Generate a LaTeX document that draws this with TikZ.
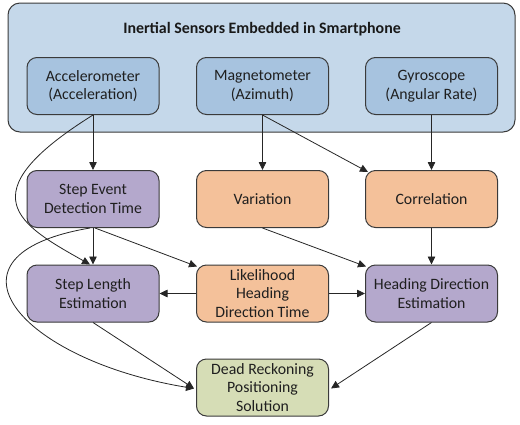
\documentclass[tikz,border=0pt]{standalone}
\usepackage{fontspec}
\setmainfont{Carlito}
\usetikzlibrary{arrows.meta}

\definecolor{panelfill}{HTML}{C5D8EA}
\definecolor{sensorfill}{HTML}{A7C3DF}
\definecolor{purplefill}{HTML}{B4A8CC}
\definecolor{orangefill}{HTML}{F4C19A}
\definecolor{greenfill}{HTML}{D6DDB6}
\definecolor{edgegray}{HTML}{3A3A3A}

\tikzset{
  box/.style={draw=edgegray, line width=1pt, rounded corners=10pt,
    minimum width=132pt, minimum height=57pt, inner sep=0pt, align=center,
    font=\fontsize{15.8}{18.5}\selectfont, text=black!88},
  sensor/.style={box, fill=sensorfill},
  proc/.style={box, fill=purplefill},
  calc/.style={box, fill=orangefill},
  result/.style={box, fill=greenfill},
  arr/.style={draw=black!85, line width=0.8pt,
    -{Triangle[length=8pt,width=7.5pt]}},
}

\begin{document}
\begin{tikzpicture}[x=1pt,y=-1pt]
  \useasboundingbox (0,0) rectangle (520,424);

  % sensor panel
  \node[draw=edgegray, line width=1pt, rounded corners=12pt, fill=panelfill,
        minimum width=507pt, minimum height=129pt, inner sep=0pt] (panel) at (261.5,67.5) {};
  \node[font=\fontsize{15.9}{18}\selectfont\bfseries, text=black!90] (title) at (262,29)
    {Inertial Sensors Embedded in Smartphone};

  % sensors
  \node[sensor] (acc)  at (93,86)    {Accelerometer\\(Acceleration)};
  \node[sensor] (mag)  at (262.5,86) {Magnetometer\\(Azimuth)};
  \node[sensor] (gyro) at (431.5,86) {Gyroscope\\(Angular Rate)};

  % processing stages
  \node[proc] (step) at (93,199)    {Step Event\\Detection Time};
  \node[calc] (var)  at (262.5,199) {Variation};
  \node[calc] (corr) at (431.5,199) {Correlation};

  \node[proc] (len)  at (93,293.5)    {Step Length\\Estimation};
  \node[calc] (lik)  at (262.5,293.5) {Likelihood\\Heading\\Direction Time};
  \node[proc] (head) at (431.5,293.5) {Heading Direction\\Estimation};

  \node[result] (dead) at (262.5,387.5) {Dead Reckoning\\Positioning\\Solution};

  % connectors
  \draw[arr] (acc.south) -- (step.north);
  \draw[arr] (mag.south) -- (var.north);
  \draw[arr] (mag.south) -- ([shift={(3pt,-2pt)}]corr.north west);
  \draw[arr] (gyro.south) -- (corr.north);

  \draw[arr] (acc.south) .. controls (-35,195) and (20,225) .. ([xshift=-3pt]len.north);

  \draw[arr] (step.south) -- (len.north);
  \draw[arr] ([xshift=2pt]step.south) -- ([shift={(1pt,-2pt)}]lik.north west);
  \draw[arr] (var.south) -- ([shift={(1pt,-2pt)}]head.north west);
  \draw[arr] (corr.south) -- (head.north);

  \draw[arr] (lik.west) -- (len.east);
  \draw[arr] (lik.east) -- (head.west);

  \draw[arr] ([xshift=-3pt]step.south) .. controls (-70,255) and (20,360) .. ([shift={(-2pt,-1pt)}]dead.west);
  \draw[arr] (len.south) -- ([shift={(-2pt,-1pt)}]dead.west);
  \draw[arr] (head.south) -- ([shift={(2pt,-1pt)}]dead.east);
\end{tikzpicture}
\end{document}
